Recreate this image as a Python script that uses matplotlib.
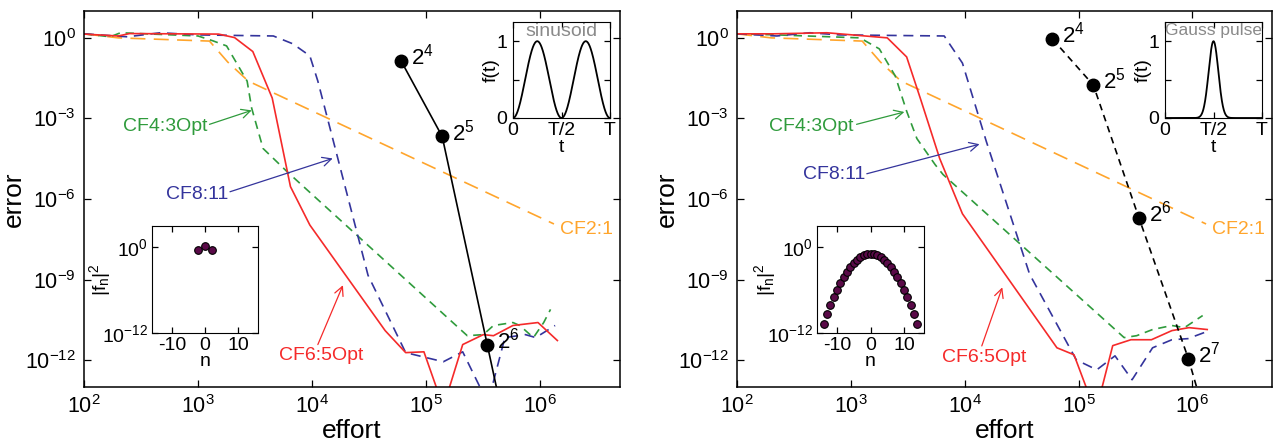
import numpy as np
import matplotlib
matplotlib.use("Agg")
import matplotlib.pyplot as plt
from matplotlib.ticker import FixedLocator, NullLocator, LogFormatterMathtext

plt.rcParams['font.family'] = ['Liberation Sans', 'DejaVu Sans']
plt.rcParams['mathtext.fontset'] = 'custom'
plt.rcParams['mathtext.rm'] = 'Liberation Sans'
plt.rcParams['mathtext.it'] = 'Liberation Sans:italic'
plt.rcParams['mathtext.default'] = 'regular'
plt.rcParams['axes.unicode_minus'] = False

# ── data (log10 effort, log10 error) ──────────────────────────────────────────
orange_x = [2.00, 2.30, 3.10, 3.26, 3.44, 6.12]
orange_y = [0.15, 0.00, -0.12, -0.90, -1.61, -6.93]

# left panel: sinusoid
L_red_x = [2.00, 2.30, 2.40, 3.18, 3.32, 3.48, 3.65, 3.81, 3.98, 4.64, 4.82, 4.98,
           5.15, 5.32, 5.50, 5.59, 5.76, 5.98, 6.15]
L_red_y = [0.14, 0.07, 0.16, 0.14, 0.01, -0.51, -2.24, -5.54, -6.97, -10.90, -11.72,
           -11.69, -13.75, -11.42, -11.05, -11.09, -10.71, -10.60, -11.27]
L_blue_x = [2.00, 2.38, 2.67, 3.00, 3.66, 3.83, 3.98, 4.05, 4.49, 4.82, 5.15, 5.32,
            5.54, 5.69, 5.87, 5.96, 6.13]
L_blue_y = [0.15, 0.04, 0.19, 0.11, 0.07, -0.22, -0.67, -1.61, -8.84, -11.72, -12.06,
            -11.69, -13.60, -11.16, -11.05, -11.16, -10.71]
L_green_x = [2.00, 2.23, 2.32, 3.00, 3.13, 3.25, 3.43, 3.47, 3.57, 3.78, 5.36, 5.50,
             5.59, 5.76, 5.82, 5.94, 6.03, 6.09]
L_green_y = [0.15, 0.04, 0.19, 0.07, -0.11, -0.30, -1.61, -2.62, -4.12, -4.98, -11.09,
             -11.05, -10.71, -10.60, -10.71, -11.16, -10.60, -10.11]
L_grid_x = [4.78, 5.14, 5.535, 5.92]
L_grid_y = [-0.86, -3.67, -11.42, -19.0]
L_grid_lab = ['$2^4$', '$2^5$', '$2^6$']

# right panel: Gauss pulse
R_red_x = [2.00, 2.32, 2.79, 3.32, 3.49, 3.61, 3.78, 3.98, 4.81, 4.96, 5.15, 5.30,
           5.46, 5.64, 5.82, 5.97, 6.13]
R_red_y = [0.15, 0.15, 0.19, 0.00, -0.71, -2.25, -4.49, -6.55, -11.54, -11.80, -13.95,
           -11.46, -11.24, -11.24, -10.90, -10.79, -10.86]
R_blue_x = [2.00, 2.35, 2.64, 2.90, 3.82, 3.98, 4.19, 4.57, 4.98, 5.16, 5.32, 5.47,
            5.65, 5.82, 5.96, 6.15]
R_blue_y = [0.15, 0.07, 0.19, 0.11, 0.07, -0.94, -3.86, -8.80, -11.99, -12.36, -11.84,
            -12.73, -11.54, -11.24, -11.20, -10.90]
R_green_x = [2.00, 2.35, 3.08, 3.25, 3.39, 3.49, 3.58, 3.74, 3.81, 5.40, 5.51, 5.65,
             5.82, 5.93, 6.09]
R_green_y = [0.15, 0.11, 0.00, -0.41, -1.42, -2.73, -3.75, -4.72, -5.09, -11.16, -11.09,
             -10.86, -10.71, -10.79, -10.34]
R_grid_x = [4.77, 5.13, 5.53, 5.965, 6.35]
R_grid_y = [-0.04, -1.76, -6.70, -11.95, -17.6]
R_grid_lab = ['$2^4$', '$2^5$', '$2^6$', '$2^7$']

# Fourier coefficients |f_n|^2 (log10)
L_coef_n = [-2, 0, 2]
L_coef_y = [-0.40, 0.20, -0.40]
R_coef_n = list(range(-14, 15))
R_coef_half = [-0.93, -0.98, -1.13, -1.38, -1.73, -2.18, -2.73, -3.38, -4.13, -4.98,
               -5.93, -6.98, -8.13, -9.38, -10.73]
R_coef_y = R_coef_half[::-1] + R_coef_half[1:]

# pulse shapes
gauss_sigma = 0.05

RED = '#f52a2a'
BLUE = '#34349c'
GREEN = '#2f9b3c'
ORANGE = '#ffa52c'
DOT = '#5a0a48'

fig = plt.figure(figsize=(12.76, 4.44), dpi=100)

W, H = 1276, 444


def px_ax(l, t, r, b):
    return [l / W, (H - b) / H, (r - l) / W, (b - t) / H]


def p10(a):
    return 10 ** np.asarray(a, dtype=float)


def style_main(ax):
    ax.set_xscale('log')
    ax.set_yscale('log')
    ax.set_xlim(1e2, 5e6)
    ax.set_ylim(1e-13, 1e1)
    ax.xaxis.set_major_locator(FixedLocator([1e2, 1e3, 1e4, 1e5, 1e6]))
    ax.yaxis.set_major_locator(FixedLocator([1e-12, 1e-9, 1e-6, 1e-3, 1e0]))
    ax.xaxis.set_minor_locator(NullLocator())
    ax.yaxis.set_minor_locator(NullLocator())
    ax.xaxis.set_major_formatter(LogFormatterMathtext())
    ax.yaxis.set_major_formatter(LogFormatterMathtext())
    ax.tick_params(direction='in', top=True, right=True, length=5, width=0.9,
                   labelsize=15.5, pad=6)
    for sp in ax.spines.values():
        sp.set_linewidth(1.1)
    ax.set_xlabel('effort', fontsize=19)
    ax.set_ylabel('error', fontsize=19)
    ax.xaxis.set_label_coords(0.5, -0.085)
    ax.yaxis.set_label_coords(-0.108, 0.5)


def draw_main(ax, red, blue, green, grid, grid_lab, grid_ls, ann):
    ax.plot(p10(orange_x), p10(orange_y), color=ORANGE, lw=1.2, dashes=(9, 5))
    ax.plot(p10(green[0]), p10(green[1]), color=GREEN, lw=1.2, dashes=(5, 3.5))
    ax.plot(p10(blue[0]), p10(blue[1]), color=BLUE, lw=1.2, dashes=(6, 4))
    ax.plot(p10(red[0]), p10(red[1]), color=RED, lw=1.2)
    ax.plot(p10(grid[0]), p10(grid[1]), color='black', lw=1.2, ls=grid_ls,
            marker='o', ms=9, zorder=5)
    for lab, gx, gy in zip(grid_lab, grid[0], grid[1]):
        ax.annotate(lab, xy=(10 ** gx, 10 ** gy), xytext=(7, 3),
                    textcoords='offset points', ha='left', va='center', fontsize=16)
    for txt, col, tpos, tail, head, ha in ann:
        ax.text(10 ** tpos[0], 10 ** tpos[1], txt, color=col, fontsize=14,
                ha=ha, va='center')
        if head is not None:
            ax.annotate('', xy=(10 ** head[0], 10 ** head[1]),
                        xytext=(10 ** tail[0], 10 ** tail[1]),
                        arrowprops=dict(arrowstyle='->', color=col, lw=0.9,
                                        mutation_scale=16, shrinkA=0, shrinkB=0))


def draw_coef(ax, n, y):
    ax.plot(n, p10(y), 'o', ms=5.5, mfc=DOT, mec='black', mew=0.8, ls='none')
    ax.set_yscale('log')
    ax.set_xlim(-16, 16)
    ax.set_ylim(1e-12, 1e3)
    ax.xaxis.set_major_locator(FixedLocator([-10, 0, 10]))
    ax.yaxis.set_major_locator(FixedLocator([1e-12, 1e0]))
    ax.yaxis.set_minor_locator(NullLocator())
    ax.yaxis.set_major_formatter(LogFormatterMathtext())
    ax.tick_params(direction='in', top=True, right=True, length=4, width=0.9,
                   labelsize=14, pad=3)
    ax.set_xlabel('n', fontsize=14, labelpad=-1)
    ax.set_ylabel('$|f_n|^2$', fontsize=14, labelpad=-8)


def draw_shape(ax, t, f, title):
    ax.plot(t, f, color='black', lw=1.3)
    ax.set_xlim(0, 1)
    ax.set_ylim(0, 1.25)
    ax.set_xticks([0, 0.5, 1])
    ax.set_xticklabels(['0', 'T/2', 'T'])
    ax.set_yticks([0, 0.5, 1])
    ax.set_yticklabels(['0', '', '1'])
    ax.tick_params(direction='in', top=True, right=True, length=4, width=0.9,
                   labelsize=14)
    ax.tick_params(axis='x', pad=3)
    ax.tick_params(axis='y', pad=4)
    ax.set_xlabel('t', fontsize=14, labelpad=0)
    ax.set_ylabel('f(t)', fontsize=14, labelpad=-2)
    ax.text(0.5, 0.99, title, transform=ax.transAxes, ha='center', va='top',
            color='#8a8a8a', fontsize=14 if title == 'sinusoid' else 12.5)


# ── left panel ────────────────────────────────────────────────────────────────
axL = fig.add_axes(px_ax(84, 11, 620, 387))
style_main(axL)
annL = [
    ('CF4:3Opt', GREEN, (2.71, -3.30), (3.10, -3.22), (3.47, -2.70), 'center'),
    ('CF8:11', BLUE, (2.99, -5.84), (3.28, -5.73), (4.18, -4.49), 'center'),
    ('CF6:5Opt', RED, (4.08, -11.84), (4.05, -11.42), (4.27, -9.21), 'center'),
    ('CF2:1', ORANGE, (6.17, -7.15), None, None, 'left'),
]
draw_main(axL, (L_red_x, L_red_y), (L_blue_x, L_blue_y), (L_green_x, L_green_y),
          (L_grid_x, L_grid_y), L_grid_lab, '-', annL)

# ── right panel ───────────────────────────────────────────────────────────────
axR = fig.add_axes(px_ax(737, 11, 1272, 387))
style_main(axR)
annR = [
    ('CF4:3Opt', GREEN, (2.65, -3.30), (3.05, -3.22), (3.47, -2.76), 'center'),
    ('CF8:11', BLUE, (2.85, -5.09), (3.14, -5.06), (4.13, -3.96), 'center'),
    ('CF6:5Opt', RED, (4.17, -11.91), (4.15, -11.47), (4.33, -9.29), 'center'),
    ('CF2:1', ORANGE, (6.17, -7.12), None, None, 'left'),
]
draw_main(axR, (R_red_x, R_red_y), (R_blue_x, R_blue_y), (R_green_x, R_green_y),
          (R_grid_x, R_grid_y), R_grid_lab, (0, (4, 3)), annR)

# ── insets ────────────────────────────────────────────────────────────────────
draw_coef(fig.add_axes(px_ax(152, 226, 258, 333)), L_coef_n, L_coef_y)
draw_coef(fig.add_axes(px_ax(817, 226, 924, 333)), R_coef_n, R_coef_y)

t = np.linspace(0, 1, 400)
draw_shape(fig.add_axes(px_ax(513, 22, 610, 118)), t, np.sin(2 * np.pi * t) ** 2,
           'sinusoid')
draw_shape(fig.add_axes(px_ax(1165, 22, 1262, 118)), t,
           np.exp(-(t - 0.5) ** 2 / (2 * gauss_sigma ** 2)), 'Gauss pulse')

fig.savefig('out.png', dpi=100)
